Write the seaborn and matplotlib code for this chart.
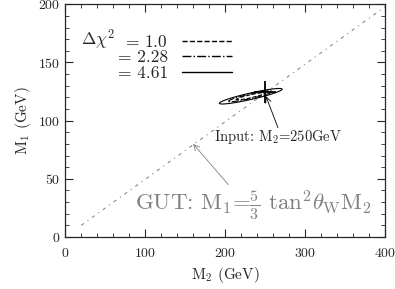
import matplotlib
matplotlib.use("Agg")
import matplotlib.pyplot as plt
import numpy as np
import seaborn as sns
from matplotlib.lines import Line2D

# GUT relation line (M1 = 5/3 tan^2 theta_W M2)
gut_m2 = [20, 400]
gut_m1 = [10, 198]

# input point
input_m2 = [250]
input_m1 = [125]

# delta chi^2 contour levels and fitted ellipse (center, half-axes per unit chi, angle)
chi2_levels = [1.0, 2.28, 4.61]
chi2_labels = [r"= 1.0$\enspace$", "= 2.28", "= 4.61"]
chi2_styles = ["--", "-.", "-"]
fit_center = (232, 121)
fit_axes = (18.5, 1.3)
fit_angle_deg = 8.8

sns.set_style("ticks")
plt.rcParams["font.family"] = ["cmr10", "DejaVu Serif"]
plt.rcParams["mathtext.fontset"] = "cm"
plt.rcParams["axes.formatter.use_mathtext"] = True

fig = plt.figure(figsize=(3.95, 2.89), dpi=100)
ax = fig.add_axes([0.165, 0.18, 0.81, 0.805])

sns.lineplot(x=gut_m2, y=gut_m1, ax=ax, color="#888888", lw=0.8,
             linestyle=(0, (3, 4, 1, 4)))

# chi^2 field from the fitted ellipse
gx, gy = np.meshgrid(np.linspace(170, 300, 400), np.linspace(100, 145, 300))
t = np.deg2rad(fit_angle_deg)
u = (gx - fit_center[0]) * np.cos(t) + (gy - fit_center[1]) * np.sin(t)
v = -(gx - fit_center[0]) * np.sin(t) + (gy - fit_center[1]) * np.cos(t)
chi2 = (u / fit_axes[0]) ** 2 + (v / fit_axes[1]) ** 2
ax.contour(gx, gy, chi2, levels=chi2_levels, colors="black",
           linestyles=chi2_styles, linewidths=0.8)

ax.plot(input_m2, input_m1, marker="+", color="black", ms=16, mew=1.3, ls="none")

# input label with pointer
ax.annotate("", xy=(251, 121), xytext=(266, 94),
            arrowprops=dict(arrowstyle="->", lw=0.6, color="black",
                            shrinkA=0, shrinkB=0))
ax.text(266, 86, "Input: M$_2$=250GeV", ha="center", va="center", fontsize=10.5)

# GUT label with pointer
ax.annotate("", xy=(160, 80), xytext=(204, 45),
            arrowprops=dict(arrowstyle="->", lw=0.6, color="#808080",
                            shrinkA=0, shrinkB=0))
ax.text(87, 27, r"GUT: M$_1$=$\frac{5}{3}$ tan$^2\theta_{\rm W}$M$_2$",
        ha="left", va="center", fontsize=16.5, color="#808080")

handles = [Line2D([], [], color="black", lw=1.0, ls=s) for s in chi2_styles]
ax.legend(handles, chi2_labels, loc="upper left", bbox_to_anchor=(0.138, 0.91),
          frameon=False, markerfirst=False, handlelength=2.9,
          fontsize=12.5, labelspacing=0.0, handletextpad=0.8, borderpad=0)
ax.text(0.05, 0.848, r"$\Delta\chi^2$", transform=ax.transAxes,
        fontsize=12.5, va="center", ha="left")

ax.set_xlim(0, 400)
ax.set_ylim(0, 200)
ax.set_xticks([0, 100, 200, 300, 400])
ax.set_yticks([0, 50, 100, 150, 200])
ax.set_xticks(np.arange(0, 401, 20), minor=True)
ax.set_yticks(np.arange(0, 201, 10), minor=True)
ax.tick_params(which="both", direction="in", top=True, right=True, labelsize=10)
ax.tick_params(which="major", length=6, width=0.8)
ax.tick_params(which="minor", length=3, width=0.6)
ax.tick_params(axis="x", pad=7)
for s in ax.spines.values():
    s.set_linewidth(0.9)

ax.set_xlabel("M$_2$ (GeV)", fontsize=11)
ax.set_ylabel("M$_1$ (GeV)", fontsize=11)

fig.savefig("out.png", dpi=100)
